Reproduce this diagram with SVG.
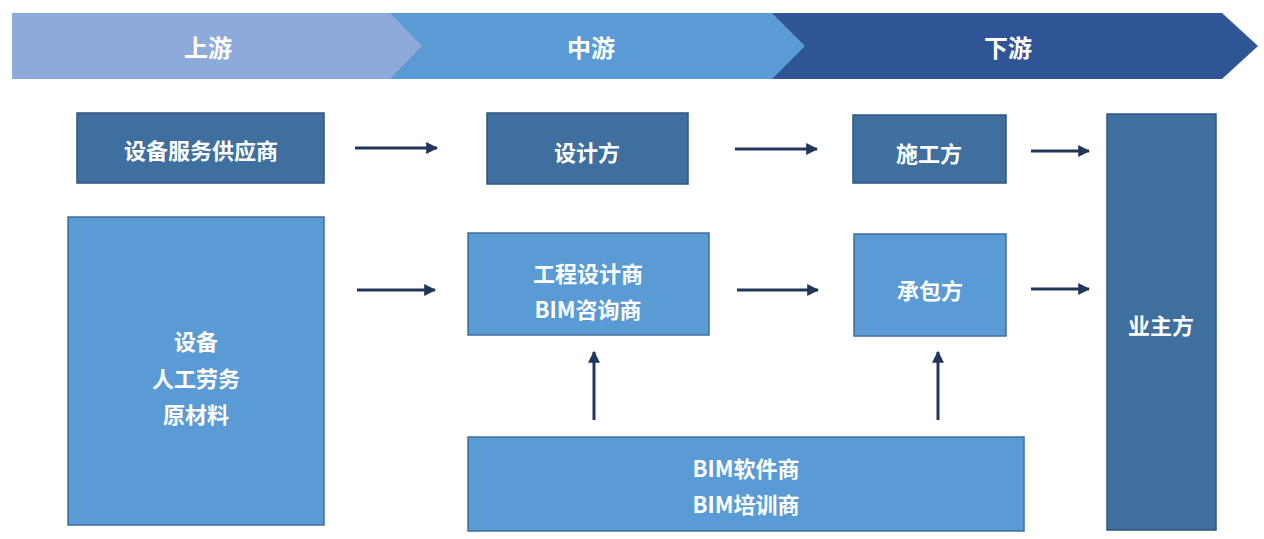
<svg xmlns="http://www.w3.org/2000/svg" width="1264" height="539" viewBox="0 0 1264 539">
<defs>
<style>
.t{font-family:"Noto Sans CJK SC","Noto Sans",sans-serif;font-weight:bold;font-size:22px;fill:#ffffff;text-anchor:middle;dominant-baseline:central}
.bt{font-size:24px}
.dark{fill:#3E6F9F;stroke:#2E5681;stroke-width:1.5}
.light{fill:#5B9BD5;stroke:#3F6E9C;stroke-width:1.5}
.c{stroke:#22365C;stroke-width:3;fill:none;marker-end:url(#ah)}
</style>
<marker id="ah" viewBox="0 0 10 10" refX="9" refY="5" markerWidth="4" markerHeight="4" orient="auto" markerUnits="strokeWidth">
<path d="M0,0 L10,5 L0,10 z" fill="#22365C"/>
</marker>
</defs>
<rect width="1264" height="539" fill="#ffffff"/>
<g id="banner">
<polygon points="772,13 1222,13 1258,46 1222,79 772,79" fill="#2F5597"/>
<polygon points="390,13 772,13 805,46 772,79 390,79" fill="#5B9BD5"/>
<polygon points="12,13 390,13 422,46 390,79 12,79" fill="#8EAADB"/>
<text class="t bt" x="208" y="46">上游</text>
<text class="t bt" x="591" y="46">中游</text>
<text class="t bt" x="1008" y="46">下游</text>
</g>
<g id="n-supplier">
<rect class="dark" x="77" y="113" width="247" height="70"/>
<text class="t" x="201" y="149">设备服务供应商</text>
</g>
<g id="n-materials">
<rect class="light" x="68" y="217" width="256" height="308"/>
<text class="t" x="196" y="340">设备</text>
<text class="t" x="196" y="377">人工劳务</text>
<text class="t" x="196" y="413">原材料</text>
</g>
<g id="n-designer">
<rect class="dark" x="487" y="113" width="201" height="71"/>
<text class="t" x="587" y="151">设计方</text>
</g>
<g id="n-engineering">
<rect class="light" x="468" y="233" width="241" height="102"/>
<text class="t" x="588" y="272">工程设计商</text>
<text class="t" x="588" y="308">BIM咨询商</text>
</g>
<g id="n-construction">
<rect class="dark" x="853" y="115" width="153" height="68"/>
<text class="t" x="929" y="152">施工方</text>
</g>
<g id="n-contractor">
<rect class="light" x="854" y="234" width="152" height="102"/>
<text class="t" x="930" y="289">承包方</text>
</g>
<g id="n-owner">
<rect class="dark" x="1107" y="114" width="109" height="416"/>
<text class="t" x="1161" y="324">业主方</text>
</g>
<g id="n-bim">
<rect class="light" x="468" y="437" width="556" height="94"/>
<text class="t" x="746" y="467">BIM软件商</text>
<text class="t" x="746" y="503">BIM培训商</text>
</g>
<g id="connectors">
<line class="c" x1="355" y1="148" x2="437" y2="148"/>
<line class="c" x1="735" y1="149" x2="817" y2="149"/>
<line class="c" x1="1031" y1="151" x2="1089" y2="151"/>
<line class="c" x1="357" y1="290" x2="435" y2="290"/>
<line class="c" x1="737" y1="290" x2="818" y2="290"/>
<line class="c" x1="1031" y1="289" x2="1089" y2="289"/>
<line class="c" x1="594" y1="420" x2="594" y2="352"/>
<line class="c" x1="938" y1="420" x2="938" y2="352"/>
</g>
</svg>
